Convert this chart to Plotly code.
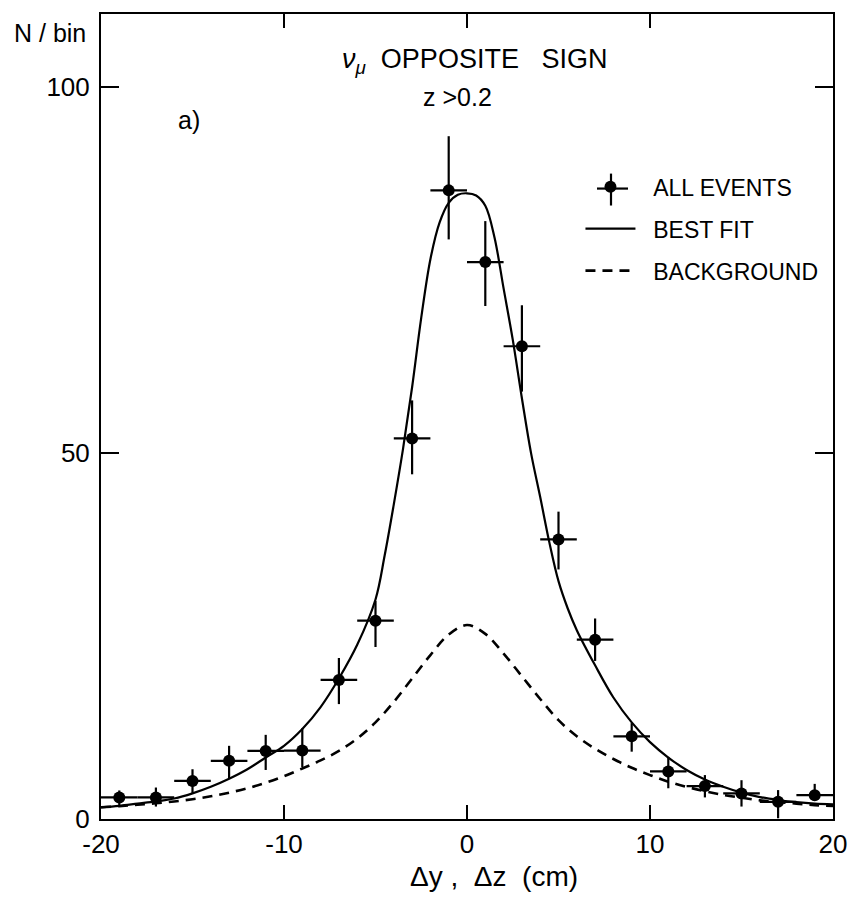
import plotly.graph_objects as go

# ---- data ----
bin_x = [-19, -17, -15, -13, -11, -9, -7, -5, -3, -1, 1, 3, 5, 7, 9, 11, 13, 15, 17, 19]
events = [2.95, 2.95, 5.2, 7.95, 9.3, 9.35, 19.0, 27.1, 52.0, 85.9,
          76.1, 64.6, 38.2, 24.5, 11.3, 6.5, 4.5, 3.5, 2.35, 3.25]
err_plus = [0.95, 1.35, 1.6, 2.05, 2.2, 3.05, 3.0, 2.7, 5.2, 7.4,
            5.6, 5.6, 3.8, 2.9, 1.8, 2.0, 1.5, 1.8, 1.6, 1.55]
err_minus = [1.25, 1.25, 1.7, 2.45, 2.6, 2.25, 3.3, 3.6, 4.9, 6.7,
             6.0, 6.2, 4.1, 2.9, 2.1, 2.3, 1.55, 1.8, 2.25, 0.65]
half_bin = [1.0] * len(bin_x)

fit_x = [-20, -19, -18, -17, -16, -15, -14, -13, -12, -11, -10, -9, -8, -7, -6, -5,
         -4.5, -4, -3.5, -3, -2.5, -2, -1.5, -1, -0.5, 0, 0.5, 1, 1.5, 2, 2.5, 3,
         3.5, 4, 4.5, 5, 5.5, 6, 7, 8, 9, 10, 11, 12, 13, 14, 15, 16, 17, 18, 19, 20]
fit_y = [1.6, 1.8, 2.1, 2.4, 2.8, 3.5, 4.4, 5.5, 6.8, 8.4, 10.0, 12.3, 15.3, 19.2, 23.8, 30.0,
         36.0, 43.0, 50.5, 59.0, 68.5, 76.5, 81.5, 84.2, 85.3, 85.5, 85.2, 83.8, 79.5, 72.5, 65.5, 57.5,
         50.0, 44.0, 37.8, 32.5, 28.8, 25.8, 21.0, 16.6, 13.2, 10.5, 8.4, 6.7, 5.4, 4.4, 3.6, 3.0, 2.6, 2.3, 2.1, 2.0]

bg_x = [-20, -19, -18, -17, -16, -15, -14, -13, -12, -11, -10, -9, -8, -7, -6, -5, -4, -3, -2, -1,
        0, 1, 2, 3, 4, 5, 6, 7, 8, 9, 10, 11, 12, 13, 14, 15, 16, 17, 18, 19, 20]
bg_y = [1.6, 1.75, 1.95, 2.15, 2.4, 2.7, 3.1, 3.6, 4.2, 4.95, 5.85, 6.9, 8.0, 9.3, 11.0, 13.2, 16.0, 19.2, 22.4, 25.2,
        26.5, 25.3, 22.6, 19.5, 16.4, 13.5, 11.3, 9.6, 8.2, 7.0, 6.0, 5.1, 4.4, 3.8, 3.3, 2.9, 2.55, 2.3, 2.1, 1.9, 1.8]

x_ticks = [-20, -10, 0, 10, 20]
x_tick_text = ["-20", "-10", "0", "10", "20"]
y_ticks = [0, 50, 100]

FONT = "Liberation Sans"
NB = "\u00a0\u00a0"

fig = go.Figure()
fig.add_trace(go.Scatter(
    x=bin_x, y=events, mode="markers", name=NB + "ALL EVENTS", legendgroup="a",
    marker=dict(color="black", size=12, symbol="circle"),
    error_y=dict(type="data", array=err_plus, arrayminus=err_minus, color="black", thickness=2.2, width=0),
    error_x=dict(type="data", array=half_bin, color="black", thickness=2.2, width=0),
))
fig.add_trace(go.Scatter(
    x=fit_x, y=fit_y, mode="lines", name=NB + "BEST FIT", legendgroup="b",
    line=dict(color="black", width=2.2, shape="spline"),
))
fig.add_trace(go.Scatter(
    x=bg_x, y=bg_y, mode="lines", name=NB + "BACKGROUND", legendgroup="c",
    line=dict(color="black", width=2.6, dash="10px,7px", shape="spline"),
))

axis_common = dict(
    showgrid=False, zeroline=False, showline=True, linecolor="black", linewidth=2,
    mirror="ticks", ticks="inside", tickcolor="black", tickwidth=2,
    tickfont=dict(family=FONT, size=26, color="black"),
)
fig.update_xaxes(range=[-20, 20], tickvals=x_ticks, ticktext=x_tick_text, ticklen=14,
                 ticklabelstandoff=1, **axis_common)
fig.update_yaxes(range=[0, 110], tickvals=y_ticks, ticklen=18, ticklabelstandoff=4, **axis_common)


def px_x(p):
    return (p - 101) / 732


def px_y(p):
    return (819 - p) / 807


# cross drawn on the legend sample for ALL EVENTS (legend decoration)
legend_cross = [
    dict(type="line", xref="paper", yref="paper", x0=px_x(597), x1=px_x(628), y0=px_y(187), y1=px_y(187),
         line=dict(color="black", width=2.2)),
    dict(type="line", xref="paper", yref="paper", x0=px_x(611), x1=px_x(611), y0=px_y(172), y1=px_y(204),
         line=dict(color="black", width=2.2)),
]

fig.update_layout(
    width=860, height=907,
    margin=dict(l=101, r=27, t=12, b=88),
    paper_bgcolor="white", plot_bgcolor="white",
    font=dict(family=FONT, color="black"),
    showlegend=True,
    legend=dict(x=0.655, y=0.812, xanchor="left", yanchor="top", itemwidth=50,
                font=dict(family=FONT, size=23, color="black"),
                bgcolor="rgba(0,0,0,0)", tracegroupgap=9),
    shapes=legend_cross,
    annotations=[
        dict(text="N / bin", xref="paper", yref="paper", x=-0.122, y=0.976, xanchor="left", yanchor="middle",
             showarrow=False, font=dict(family=FONT, size=25)),
        dict(text="<i>ν</i><sub><i>μ</i></sub>&nbsp;&nbsp;OPPOSITE&nbsp;&nbsp;&nbsp;SIGN", xref="x", yref="y",
             x=0.4, y=103.6, showarrow=False, font=dict(family=FONT, size=27)),
        dict(text="z >0.2", xref="x", yref="y", x=-0.5, y=98.6,
             showarrow=False, font=dict(family=FONT, size=25)),
        dict(text="a)", xref="x", yref="y", x=-15.2, y=95.5,
             showarrow=False, font=dict(family=FONT, size=25)),
        dict(text="Δy ,&nbsp;&nbsp;Δz&nbsp;&nbsp;(cm)", xref="x", yref="paper", x=1.5, y=-0.071,
             yanchor="middle", showarrow=False, font=dict(family=FONT, size=28)),
    ],
)

fig.write_html("out.html")
